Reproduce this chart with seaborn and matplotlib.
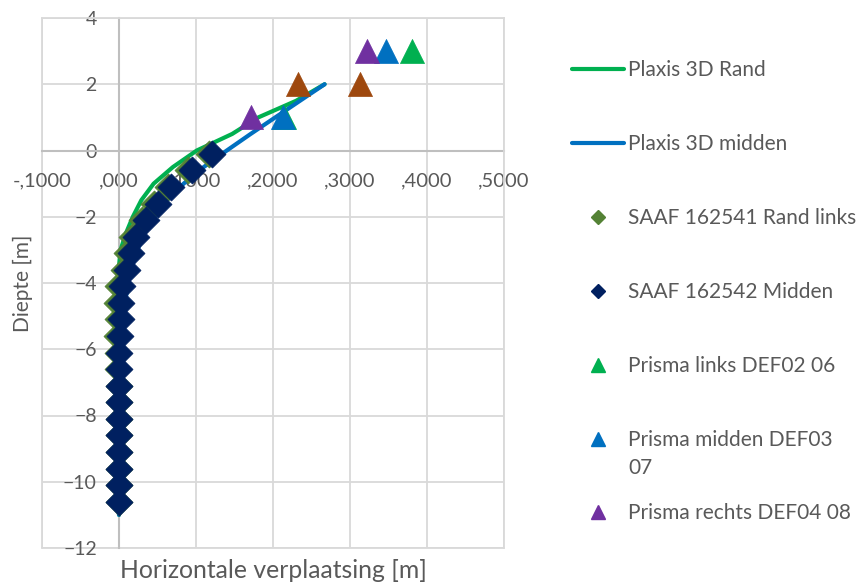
import numpy as np
import matplotlib
matplotlib.use("Agg")
import matplotlib.pyplot as plt
import seaborn as sns
from matplotlib.lines import Line2D
from matplotlib.legend_handler import HandlerLine2D

# ---- data -------------------------------------------------------------
plaxis_depth = [2, 1.5, 1, 0.5, 0, -0.5, -1, -1.5, -2, -2.5, -3, -3.5, -4,
                -5, -6, -7, -8, -9, -10, -11]
plaxis_rand = [0.267, 0.230, 0.181, 0.147, 0.101, 0.070, 0.045, 0.029, 0.018,
               0.009, 0.002, 0.0, 0.0, 0.0, 0.0, 0.0, 0.0, 0.0, 0.0, 0.0]
plaxis_midden = [0.267, 0.235, 0.203, 0.171, 0.140, 0.110, 0.084, 0.062, 0.047,
                 0.033, 0.024, 0.017, 0.012, 0.005, 0.002, 0.0, 0.0, 0.0, 0.0, 0.0]

saaf_depth = [-0.1, -0.6, -1.1, -1.6, -2.1, -2.6, -3.1, -3.6, -4.1, -4.6, -5.1,
              -5.6, -6.1, -6.6, -7.1, -7.6, -8.1, -8.6, -9.1, -9.6, -10.1, -10.6]
saaf_rand_links = [0.117, 0.090, 0.063, 0.045, 0.030, 0.017, 0.010, 0.006, -0.001,
                   -0.002, -0.001, -0.003, -0.001, -0.001, 0.0, 0.0, 0.0, 0.0,
                   0.0, 0.0, 0.0, 0.0]
saaf_midden = [0.121, 0.095, 0.068, 0.050, 0.035, 0.022, 0.015, 0.011, 0.004,
               0.002, 0.002, 0.001, 0.0, 0.0, 0.0, 0.0, 0.0, 0.0, 0.0, 0.0, 0.0, 0.0]

prisma_depth = [1, 3]
prisma_links = [0.214, 0.380]
prisma_midden = [0.2125, 0.347]
prisma_rechts = [0.172, 0.322]
prisma_extra_depth = [2, 2]
prisma_extra = [0.233, 0.3125]

series_names = ["Plaxis 3D Rand", "Plaxis 3D midden", "SAAF 162541 Rand links",
                "SAAF 162542 Midden", "Prisma links DEF02 06",
                "Prisma midden DEF03\n07", "Prisma rechts DEF04 08"]

x_ticks = [-0.1, 0.0, 0.1, 0.2, 0.3, 0.4, 0.5]
x_tick_labels = ["-,1000", ",000", ",1000", ",2000", ",3000", ",4000", ",5000"]
y_ticks = [4, 2, 0, -2, -4, -6, -8, -10, -12]

# ---- style ------------------------------------------------------------
sns.set_theme(style="white")
plt.rcParams["font.family"] = ["Lato", "DejaVu Sans"]
TXT = "#595959"
GRID = "#d9d9d9"
AXIS = "#bfbfbf"
C_GREEN = "#00b050"
C_BLUE = "#0070c0"
C_OLIVE = "#548235"
C_NAVY = "#002060"
C_PURPLE = "#7030a0"
C_BROWN = "#9e480e"

fig = plt.figure(figsize=(8.64, 5.85), dpi=100)
ax = fig.add_axes([42 / 864, 1 - 548 / 585, 462 / 864, 530 / 585])

# ---- series -----------------------------------------------------------
sns.lineplot(x=plaxis_rand, y=plaxis_depth, sort=False, estimator=None,
             color=C_GREEN, lw=3, ax=ax, zorder=3,
             solid_capstyle="round", solid_joinstyle="round")
sns.lineplot(x=plaxis_midden, y=plaxis_depth, sort=False, estimator=None,
             color=C_BLUE, lw=3, ax=ax, zorder=3,
             solid_capstyle="round", solid_joinstyle="round")

dia_s = 190
sns.scatterplot(x=saaf_rand_links, y=saaf_depth, marker="D", s=dia_s,
                color=C_OLIVE, edgecolor=C_OLIVE, linewidth=0.5, ax=ax,
                zorder=4, legend=False)
sns.scatterplot(x=saaf_midden, y=saaf_depth, marker="D", s=dia_s,
                color=C_NAVY, edgecolor=C_NAVY, linewidth=0.5, ax=ax,
                zorder=4, legend=False)

tri_s = 300
sns.scatterplot(x=prisma_links, y=prisma_depth, marker="^", s=tri_s,
                color=C_GREEN, edgecolor=C_GREEN, linewidth=0.5, ax=ax,
                zorder=5, legend=False)
sns.scatterplot(x=prisma_midden, y=prisma_depth, marker="^", s=tri_s,
                color=C_BLUE, edgecolor=C_BLUE, linewidth=0.5, ax=ax,
                zorder=5, legend=False)
sns.scatterplot(x=prisma_rechts, y=prisma_depth, marker="^", s=tri_s,
                color=C_PURPLE, edgecolor=C_PURPLE, linewidth=0.5, ax=ax,
                zorder=5, legend=False)
sns.scatterplot(x=prisma_extra, y=prisma_extra_depth, marker="^", s=tri_s,
                color=C_BROWN, edgecolor=C_BROWN, linewidth=0.5, ax=ax,
                zorder=5, legend=False)

# ---- axes -------------------------------------------------------------
ax.set_xlim(-0.1, 0.5)
ax.set_ylim(-12, 4)
ax.set_xticks(x_ticks)
ax.set_xticklabels(x_tick_labels)
ax.set_yticks(y_ticks)
ax.set_axisbelow(True)
ax.grid(True, color=GRID, lw=1.3)

for side in ("top", "right"):
    ax.spines[side].set_color(GRID)
    ax.spines[side].set_linewidth(1.3)
ax.spines["left"].set_position(("data", 0))
ax.spines["bottom"].set_position(("data", 0))
for side in ("left", "bottom"):
    ax.spines[side].set_color(AXIS)
    ax.spines[side].set_linewidth(1.5)
    ax.spines[side].set_zorder(1.5)
ax.axvline(-0.1, color=GRID, lw=1.3, clip_on=False, zorder=0.5)
ax.axhline(-12, color=GRID, lw=1.3, clip_on=False, zorder=0.5)

ax.tick_params(axis="x", length=0, pad=16, labelsize=14.5, labelcolor=TXT)
ax.tick_params(axis="y", length=0, pad=16, labelsize=14, labelcolor=TXT)

ax.set_xlabel("Horizontale verplaatsing [m]", fontsize=17.8, color=TXT)
ax.xaxis.set_label_coords(0.5, -0.020)
ax.set_ylabel("Diepte [m]", fontsize=15, color=TXT)
ax.yaxis.set_label_coords(-0.019, 0.5)


# ---- legend -----------------------------------------------------------
class RaisedMarker(HandlerLine2D):
    """Place the marker level with the first line of a two-line label."""

    def __init__(self, shift, **kw):
        super().__init__(**kw)
        self.shift = shift

    def create_artists(self, legend, orig_handle, xdescent, ydescent, width,
                       height, fontsize, trans):
        arts = super().create_artists(legend, orig_handle, xdescent, ydescent,
                                      width, height, fontsize, trans)
        for a in arts:
            a.set_ydata(np.asarray(a.get_ydata()) + self.shift * fontsize)
        return arts


handles = [
    Line2D([], [], color=C_GREEN, lw=3, solid_capstyle="round"),
    Line2D([], [], color=C_BLUE, lw=3, solid_capstyle="round"),
    Line2D([], [], ls="", marker="D", ms=7.5, color=C_OLIVE),
    Line2D([], [], ls="", marker="D", ms=7.5, color=C_NAVY),
    Line2D([], [], ls="", marker="^", ms=10.5, color=C_GREEN),
    Line2D([], [], ls="", marker="^", ms=10.5, color=C_BLUE),
    Line2D([], [], ls="", marker="^", ms=10.5, color=C_PURPLE),
]

leg_kw = dict(loc="upper left", frameon=False, fontsize=15, labelcolor=TXT,
              handlelength=2.5, handletextpad=0.2, borderpad=0,
              borderaxespad=0)
leg1 = fig.legend(handles[:6], series_names[:6],
                  bbox_to_anchor=(572 / 864, 1 - 60 / 585),
                  labelspacing=2.59,
                  handler_map={handles[5]: RaisedMarker(0.72)}, **leg_kw)
leg1.get_texts()[5].set_linespacing(1.5)
leg2 = fig.legend(handles[6:], series_names[6:],
                  bbox_to_anchor=(572 / 864, 1 - 503 / 585), **leg_kw)

fig.savefig("out.png", dpi=100)
